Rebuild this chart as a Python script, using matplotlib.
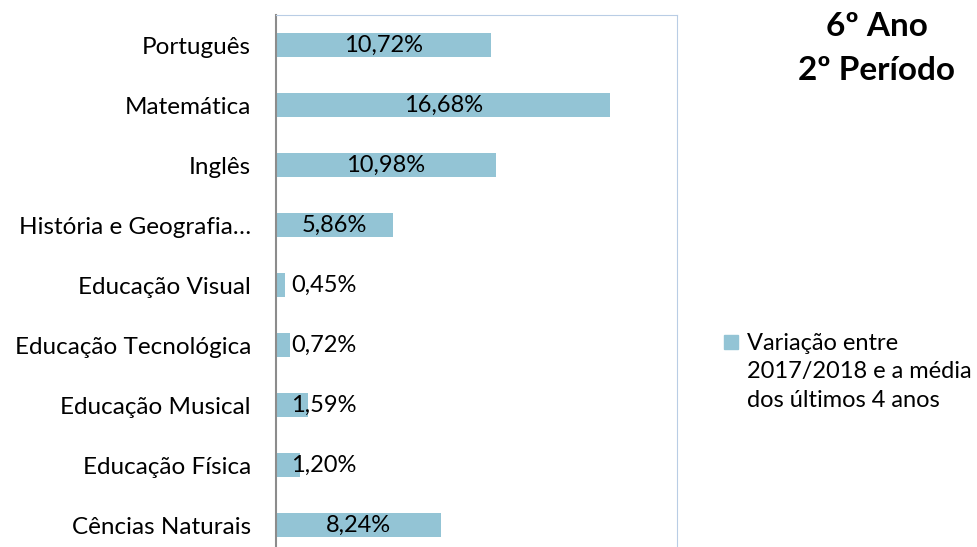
import matplotlib.pyplot as plt
from matplotlib.patches import Rectangle

# Data (top to bottom as shown)
disciplinas = ['Português', 'Matemática', 'Inglês', 'História e Geografia…',
               'Educação Visual', 'Educação Tecnológica', 'Educação Musical',
               'Educação Física', 'Cências Naturais']
variacao = [10.72, 16.68, 10.98, 5.86, 0.45, 0.72, 1.59, 1.20, 8.24]
rotulos = ['10,72%', '16,68%', '10,98%', '5,86%', '0,45%', '0,72%', '1,59%', '1,20%', '8,24%']
legenda = 'Variação entre\n2017/2018 e a média\ndos últimos 4 anos'

plt.rcParams['font.family'] = ['Lato', 'DejaVu Sans']

W, H = 978, 547
fig = plt.figure(figsize=(W / 100, H / 100), dpi=100)
# axes box: x 276..677, y top 15, bottom 555 (below picture edge)
ax = fig.add_axes([276 / W, (H - 555) / H, (677 - 276) / W, 540 / H])

cor = '#93C4D5'
y = list(range(len(disciplinas)))
ax.barh(y, variacao, height=0.4, color=cor)
ax.set_ylim(len(disciplinas) - 0.5, -0.5)
ax.set_xlim(0, 20)

for i, (v, r) in enumerate(zip(variacao, rotulos)):
    if v < 3:
        ax.text(0.75, i, r, ha='left', va='center', fontsize=17, color='black')
    else:
        ax.text(v / 2, i, r, ha='center', va='center', fontsize=17, color='black')

ax.set_yticks(y)
ax.set_yticklabels(disciplinas, fontsize=17.5)
ax.tick_params(axis='y', length=0, pad=18)
ax.set_xticks([])

for s in ['top', 'right', 'bottom']:
    ax.spines[s].set_color('#B9CDE5')
ax.spines['left'].set_color('#8C8C8C')
ax.spines['left'].set_linewidth(1.5)

fig.text(877 / W, 1 - 26 / H, '6º Ano', ha='center', va='center', fontsize=24, fontweight='bold')
fig.text(877 / W, 1 - 71 / H, '2º Período', ha='center', va='center', fontsize=24, fontweight='bold')

# legend: square + three-line text
fig.patches.append(Rectangle((724 / W, 1 - 349 / H), 14 / W, 14 / H, color=cor,
                             transform=fig.transFigure, figure=fig))
fig.text(747 / W, 1 - 407 / H, legenda, ha='left', va='baseline', fontsize=17,
         linespacing=1.45, transform=fig.transFigure)

fig.savefig('out.png', dpi=100)
